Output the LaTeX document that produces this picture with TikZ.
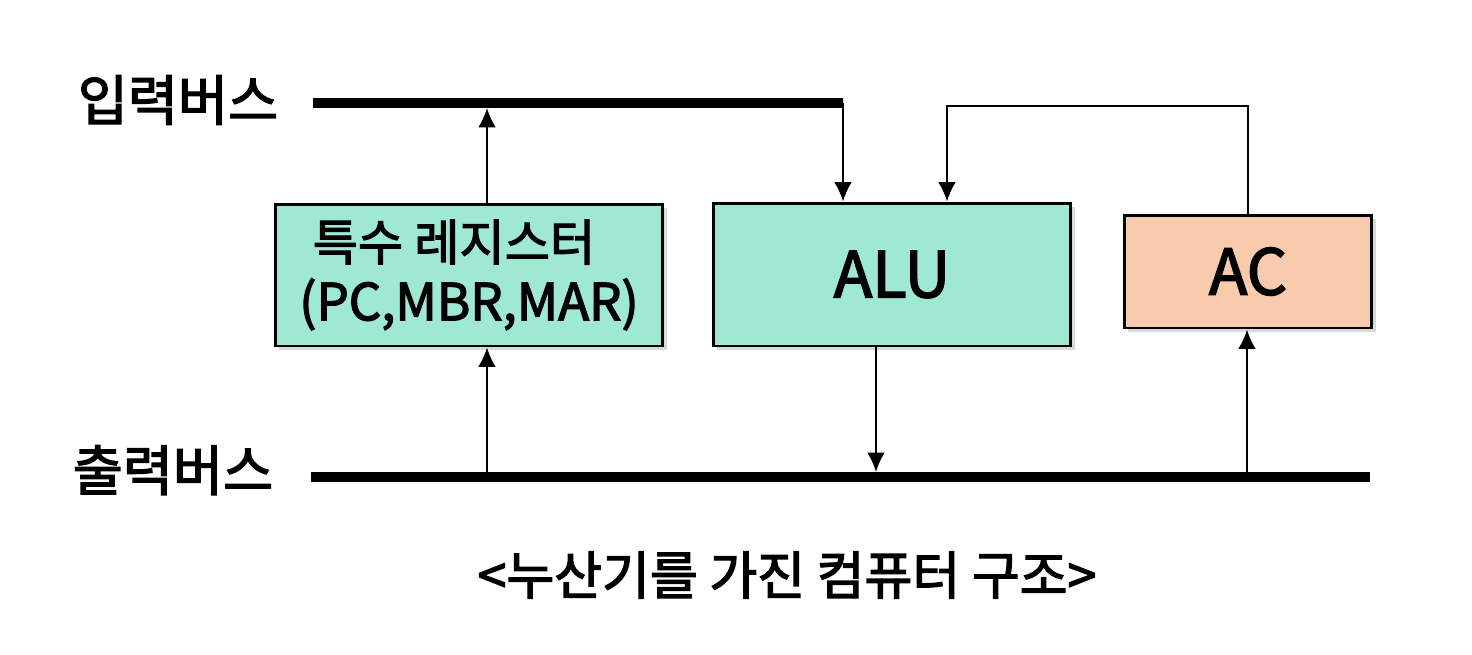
\documentclass[tikz,border=0pt]{standalone}
\usepackage{fontspec}
\setmainfont{Noto Sans CJK KR}
\newfontfamily\krmed{Noto Sans CJK KR}[FakeBold=2.5]
\usetikzlibrary{arrows.meta,shadows}
\definecolor{regfill}{HTML}{9EE8D4}
\definecolor{acfill}{HTML}{F8CBAD}

\begin{document}
\begin{tikzpicture}[x=0.02cm, y=-0.02cm,
  unit/.style={draw, line width=1.7pt, fill=regfill,
    drop shadow={opacity=0.3, shadow xshift=2.5pt, shadow yshift=-2.5pt}},
  bus/.style={line width=5.4pt},
  link/.style={line width=1.1pt, -{Latex[length=11pt,width=10pt]}},
  buslabel/.style={font=\krmed\fontsize{31}{36}\selectfont}]
\useasboundingbox (0,0) rectangle (1472,654);

% Draw the two buses
\coordinate (inW) at (313,103);
\coordinate (inE) at (843,103);
\coordinate (outW) at (311,477);
\coordinate (outE) at (1370,477);
\draw[bus] (inW) -- (inE);
\draw[bus] (outW) -- (outE);
\node[buslabel] (inlabel) at (178,100) {입력버스};
\node[buslabel] (outlabel) at (173,470) {출력버스};

% Define the taps on the buses
\coordinate (in1) at (487,108);
\coordinate (out1) at (487,472);
\coordinate (out2) at (876,472);
\coordinate (out3) at (1247,472);
\coordinate (fb) at (947,106);

% Draw the units
\node[unit, minimum width=7.76cm, minimum height=2.84cm, align=center,
  font=\krmed\fontsize{28}{34}\selectfont] (reg) at (469,275)
  {특수 레지스터\hspace*{0.6cm}\\{\fontsize{29}{34}\selectfont(PC,MBR,MAR)}};
\node[unit, minimum width=7.16cm, minimum height=2.86cm,
  font=\krmed\fontsize{36}{40}\selectfont] (alu) at (892,274.5) {ALU};
\node[unit, fill=acfill, minimum width=4.96cm, minimum height=2.26cm,
  font=\krmed\fontsize{36}{40}\selectfont] (ac) at (1248,271.5) {AC};

% Draw the connections
\draw[link] (reg.north -| in1) -- (in1);
\draw[link] (inE) -- (inE |- alu.north);
\draw[link] (ac.north) |- (fb) -- (fb |- alu.north);
\draw[link] (out1) -- (reg.south -| out1);
\draw[link] (alu.south -| out2) -- (out2);
\draw[link] (out3) -- (ac.south -| out3);

% Caption
\node[buslabel, font=\krmed\fontsize{29.6}{34}\selectfont] (caption) at (787,575)
  {<누산기를 가진 컴퓨터 구조>};
\end{tikzpicture}
\end{document}
